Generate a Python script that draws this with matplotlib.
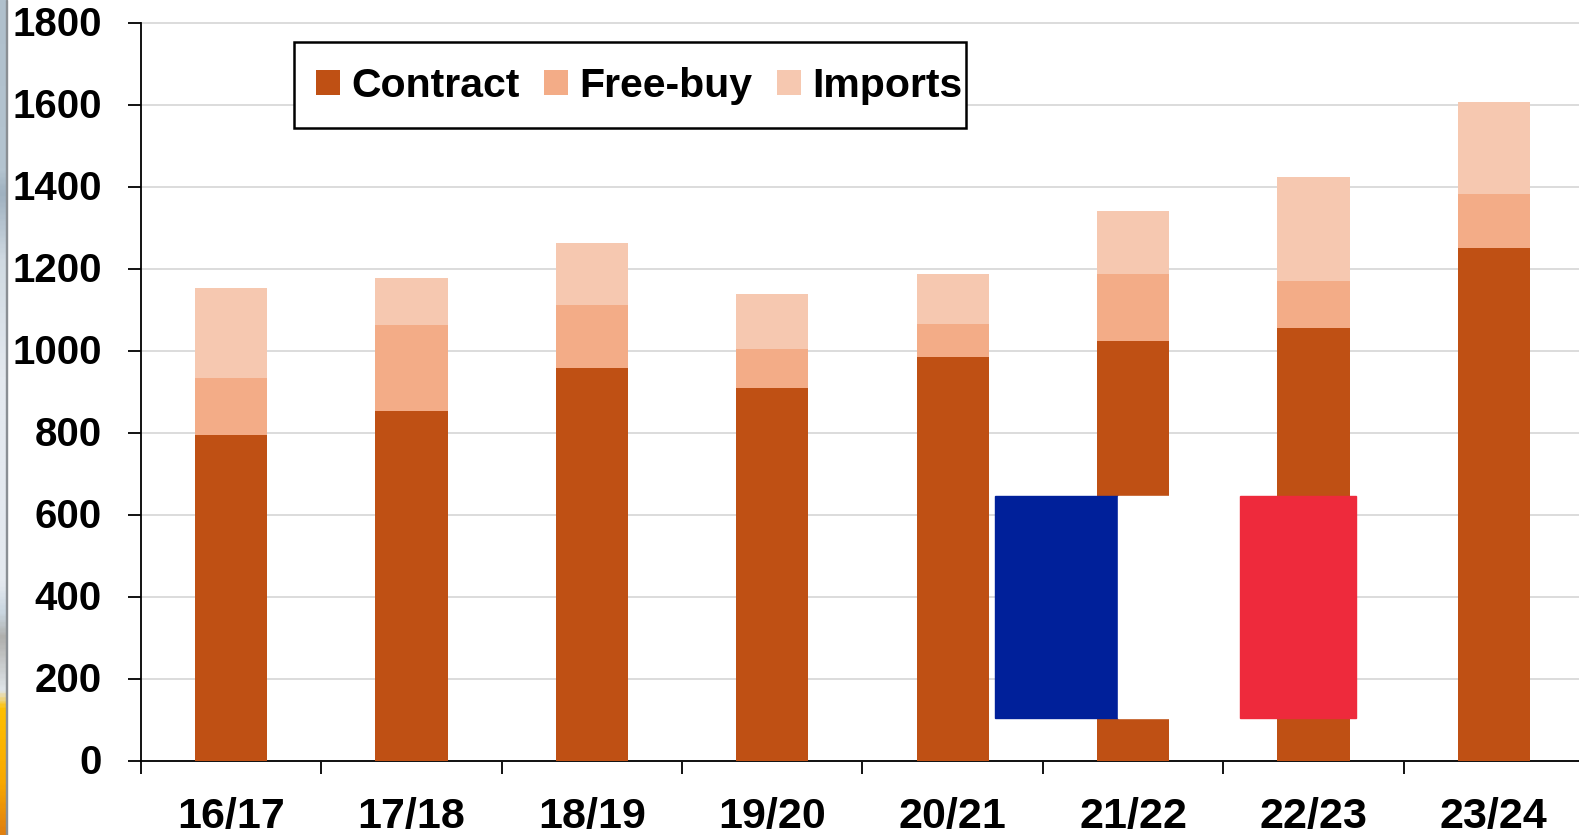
import matplotlib
matplotlib.use("Agg")
import matplotlib.pyplot as plt
import numpy as np
from matplotlib.colors import LinearSegmentedColormap
from matplotlib.patches import Rectangle
from matplotlib.transforms import ScaledTranslation

seasons = ["16/17", "17/18", "18/19", "19/20", "20/21", "21/22", "22/23", "23/24"]
contract = [795, 853, 959, 910, 986, 1024, 1057, 1251]
free_buy = [140, 211, 152, 96, 79, 164, 113, 132]
imports = [219, 114, 153, 133, 123, 153, 255, 224]

plt.rcParams['font.family'] = ['Liberation Sans', 'DejaVu Sans']

W, H = 1579, 835
fig = plt.figure(figsize=(W/100, H/100), dpi=100)
ax = fig.add_axes([141/W, 1-761/H, 1443/W, (761-23)/H])

x = list(range(len(seasons)))
bottom2 = [a+b for a, b in zip(contract, free_buy)]
ax.bar(x, contract, 0.4, color="#bf5014", label="Contract", zorder=3)
ax.bar(x, free_buy, 0.4, bottom=contract, color="#f3ac87", label="Free-buy", zorder=3)
ax.bar(x, imports, 0.4, bottom=bottom2, color="#f6c8b0", label="Imports", zorder=3)

ax.set_xlim(-0.5, 7.5)
ax.set_ylim(0, 1800)
ax.set_yticks(range(0, 1801, 200))
ax.set_xticks([i-0.5 for i in range(9)])
ax.set_xticklabels([])
ax.set_xticks(x, minor=True)
ax.set_xticklabels(seasons, minor=True, fontsize=31, fontweight="bold")
ax.tick_params(axis="x", which="minor", length=0, pad=26)
ax.tick_params(axis="x", which="major", length=9.4, width=1.3, direction="out")
ax.tick_params(axis="y", length=9.4, width=1.3, direction="out", labelsize=29, pad=19)
# nudge the y labels up a little
nudge = ScaledTranslation(0, 2/100, fig.dpi_scale_trans)
for t in ax.get_yticklabels():
    t.set_fontweight("bold")
    t.set_transform(t.get_transform() + nudge)
ax.grid(axis="y", color="#d9d9d9", linewidth=1.3, zorder=0)
for g in ax.get_ygridlines():
    g.set_clip_on(False)
ax.spines["top"].set_visible(False)
ax.spines["right"].set_visible(False)
ax.spines["left"].set_linewidth(1.3)
ax.spines["bottom"].set_linewidth(1.3)

# legend box is narrower than the entries would make it, so draw it by hand
ax.add_patch(Rectangle((294/W, 1-128/H), (966-294)/W, (128-42)/H, transform=fig.transFigure,
                       facecolor="white", edgecolor="black", linewidth=1.8, clip_on=False, zorder=3.5))
leg = ax.legend(ncol=3, loc="upper left", bbox_to_anchor=((294-141)/1443, 1-(45-23)/738),
                borderaxespad=0, frameon=False, handlelength=0.586, handleheight=0.586,
                handletextpad=0.27, columnspacing=0.6, borderpad=0.54,
                prop={"weight": "bold", "size": 29.5})
leg.set_zorder(4)

# coloured blocks sitting over the 21/22 and 22/23 bars
for (x0, x1, c) in [(995, 1118, "#00209a"), (1118, 1240, "white"), (1240, 1356, "#ee2a3c")]:
    fig.add_artist(Rectangle((x0/W, 1-718/H), (x1-x0)/W, (718-496)/H, transform=fig.transFigure, color=c, zorder=5))

# bit of the screenshot background down the left edge
strip_pos = [0, 0.2, 0.23, 0.31, 0.45, 0.7, 0.735, 0.765, 0.83, 0.85, 0.94, 1]
strip_col = ["#b0c0cc", "#b4c4d0", "#9fb1c0", "#d0dae2", "#e4e9ef", "#e4e9ef", "#c9d6e0", "#b0b0ae",
             "#e0e6ea", "#ffc000", "#f8a800", "#e08010"]
cmap = LinearSegmentedColormap.from_list("strip", list(zip(strip_pos, strip_col)))
strip = fig.add_axes([0, 0, 6/W, 1])
strip.imshow(np.linspace(0, 1, 400).reshape(-1, 1), cmap=cmap, aspect="auto")
strip.axis("off")
fig.add_artist(Rectangle((6/W, 0), 1/W, 1, transform=fig.transFigure, color="#8a8f94", zorder=5))

fig.savefig("out.png", dpi=100)
